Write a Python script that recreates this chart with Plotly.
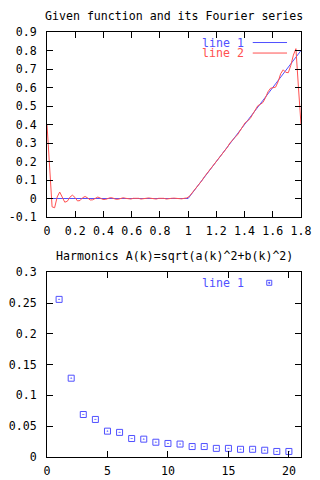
import plotly.graph_objects as go
from plotly.subplots import make_subplots

# ---------------- data ----------------
# Top: given function (line 1) and its Fourier series (line 2)
func_x = [0.0, 1.0, 1.8]
func_y = [0.0, 0.0, 0.8]

series_x = [round(0.018 * i, 3) for i in range(101)]
series_y = [
    0.400, 0.200, -0.045, -0.050, 0.008, 0.035, 0.010, -0.020, -0.015, 0.007,
    0.018, 0.006, -0.013, -0.011, 0.004, 0.011, 0.003, -0.008, -0.007, 0.003,
    0.008, 0.002, -0.005, -0.005, 0.002, 0.005, 0.002, -0.004, -0.004, 0.001,
    0.004, 0.001, -0.003, -0.003, 0.001, 0.003, 0.001, -0.003, -0.003, 0.001,
    0.003, 0.001, -0.003, -0.003, 0.001, 0.003, 0.001, -0.003, -0.003, 0.001,
    0.002, 0.001, -0.002, -0.002, 0.001, 0.003, 0.011, 0.027, 0.045, 0.0615,
    0.078, 0.097, 0.118, 0.136, 0.151, 0.167, 0.187, 0.2085, 0.2267, 0.2409,
    0.2561, 0.2767, 0.2996, 0.3178, 0.3304, 0.3446, 0.3662, 0.391, 0.4094, 0.4198,
    0.4324, 0.4555, 0.4831, 0.5017, 0.5088, 0.5189, 0.5443, 0.5767, 0.5958, 0.597,
    0.602, 0.6317, 0.6747, 0.6957, 0.682, 0.680, 0.720, 0.775, 0.810, 0.600,
    0.400,
]

top_xticks = [0, 0.2, 0.4, 0.6, 0.8, 1.0, 1.2, 1.4, 1.6, 1.8]
top_xlabels = ["0", "0.2", "0.4", "0.6", "0.8", "1", "1.2", "1.4", "1.6", "1.8"]
top_yticks = [-0.1, 0, 0.1, 0.2, 0.3, 0.4, 0.5, 0.6, 0.7, 0.8, 0.9]
top_ylabels = ["-0.1", "0", "0.1", "0.2", "0.3", "0.4", "0.5", "0.6", "0.7", "0.8", "0.9"]

# Bottom: harmonics A(k)
harm_k = list(range(1, 21))
harm_a = [0.256, 0.128, 0.069, 0.061, 0.042, 0.040, 0.030, 0.029, 0.024, 0.022,
          0.021, 0.017, 0.017, 0.014, 0.014, 0.0125, 0.0125, 0.011, 0.009, 0.009]

bot_xticks = [0, 5, 10, 15, 20]
bot_xlabels = ["0", "5", "10", "15", "20"]
bot_yticks = [0, 0.05, 0.1, 0.15, 0.2, 0.25, 0.3]
bot_ylabels = ["0", "0.05", "0.1", "0.15", "0.2", "0.25", "0.3"]

titles = ["Given function and its Fourier series",
          "Harmonics A(k)=sqrt(a(k)^2+b(k)^2)"]
legend_names = ["line 1", "line 2"]

# ---------------- style ----------------
BLUE = "rgb(80,80,255)"
RED = "rgb(255,80,80)"
FONT = "DejaVu Sans Mono"
FS = 11.6

fig = make_subplots(rows=2, cols=1)

fig.add_trace(go.Scatter(x=func_x, y=func_y, mode="lines",
                         line=dict(color=BLUE, width=1), name=legend_names[0]),
              row=1, col=1)
fig.add_trace(go.Scatter(x=series_x, y=series_y, mode="lines",
                         line=dict(color=RED, width=1), name=legend_names[1]),
              row=1, col=1)
fig.add_trace(go.Scatter(x=harm_k, y=harm_a, mode="markers",
                         marker=dict(symbol="square-open-dot", size=6, color=BLUE,
                                     line=dict(width=1, color=BLUE)),
                         name=legend_names[0]),
              row=2, col=1)

axis_common = dict(showline=True, linecolor="black", linewidth=1, mirror="ticks",
                   ticks="inside", ticklen=6, tickcolor="black", tickwidth=1,
                   showgrid=False, zeroline=False, automargin=False,
                   tickfont=dict(family=FONT, size=FS, color="black"))

fig.update_xaxes(axis_common)
fig.update_yaxes(axis_common)

fig.update_xaxes(range=[0, 1.8], tickvals=top_xticks, ticktext=top_xlabels,
                 domain=[0, 1], ticklabelstandoff=3, row=1, col=1)
fig.update_yaxes(range=[-0.1, 0.9], tickvals=top_yticks, ticktext=top_ylabels,
                 domain=[0.5647, 1.0], ticklabelstandoff=7, row=1, col=1)
fig.update_xaxes(range=[0, 21], tickvals=bot_xticks, ticktext=bot_xlabels,
                 domain=[0, 1], ticklabelstandoff=3, row=2, col=1)
fig.update_yaxes(range=[0, 0.3], tickvals=bot_yticks, ticktext=bot_ylabels,
                 domain=[0, 0.4346], ticklabelstandoff=7, row=2, col=1)

fig.update_layout(
    width=320, height=480,
    margin=dict(l=47, r=19, t=32, b=23),
    paper_bgcolor="white", plot_bgcolor="white",
    showlegend=False,
    font=dict(family=FONT, size=FS, color="black"),
)

# titles (pixel offsets relative to plot area)
fig.add_annotation(text=titles[0], xref="paper", yref="paper", x=0.5, y=1.0,
                   yshift=16, yanchor="middle", showarrow=False,
                   font=dict(family=FONT, size=FS, color="black"))
fig.add_annotation(text=titles[1], xref="paper", yref="paper", x=0.5, y=0.4346,
                   yshift=16, yanchor="middle", showarrow=False,
                   font=dict(family=FONT, size=FS, color="black"))

# gnuplot-style legends: text on the left, sample on the right
leg_offsets = [-10.5, -21]
for name, col, off in zip(legend_names, [BLUE, RED], leg_offsets):
    fig.add_annotation(text=name, xref="x domain", yref="y domain", x=0.778, y=1.0,
                       xanchor="right", yanchor="middle", yshift=off, showarrow=False,
                       borderpad=0,
                       font=dict(family=FONT, size=FS, color=col))
    fig.add_shape(type="line", xref="x domain", yref="y domain",
                  x0=0.81, x1=0.945, y0=1.0 + off / 184.7, y1=1.0 + off / 184.7,
                  line=dict(color=col, width=1))

fig.add_annotation(text=legend_names[0], xref="x2 domain", yref="y2 domain", x=0.778, y=1.0,
                   xanchor="right", yanchor="middle", yshift=-10.5, showarrow=False,
                   borderpad=0,
                   font=dict(family=FONT, size=FS, color=BLUE))
fig.add_shape(type="rect", xref="x2 domain", yref="y2 domain",
              xsizemode="pixel", ysizemode="pixel", xanchor=0.875, yanchor=1.0 - 10.5 / 184.7,
              x0=-2.5, x1=2.5, y0=-2.5, y1=2.5, line=dict(color=BLUE, width=1))
fig.add_shape(type="rect", xref="x2 domain", yref="y2 domain",
              xsizemode="pixel", ysizemode="pixel", xanchor=0.875, yanchor=1.0 - 10.5 / 184.7,
              x0=-0.5, x1=0.5, y0=-0.5, y1=0.5, line=dict(color=BLUE, width=1),
              fillcolor=BLUE)

fig.write_html("out.html", config={"displayModeBar": False},
               post_script="document.body.style.margin='0';document.body.style.padding='0';")
